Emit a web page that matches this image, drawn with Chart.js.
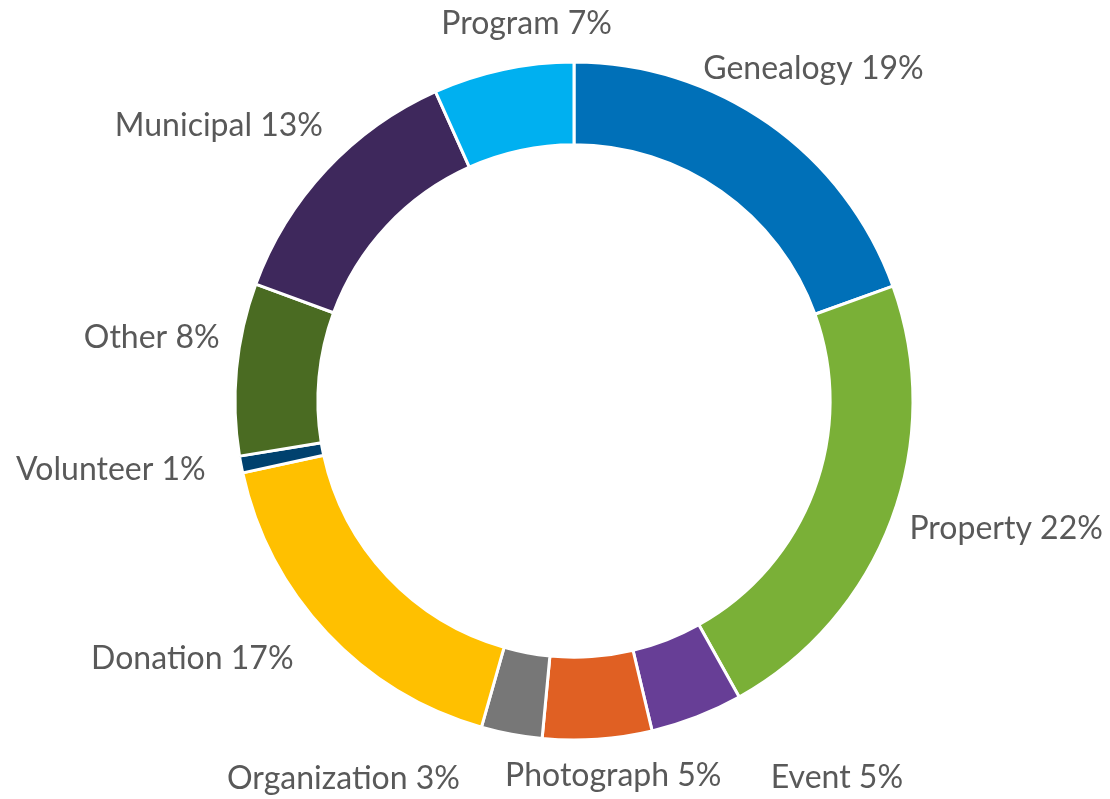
<!DOCTYPE html>
<html>
<head>
<meta charset="utf-8">
<script src="https://cdn.jsdelivr.net/npm/chart.js@4.4.0/dist/chart.umd.min.js"></script>
<style>
html,body{margin:0;padding:0;background:#fff;}
canvas{display:block;}
</style>
</head>
<body>
<canvas id="c" width="1110" height="799"></canvas>
<script>
const categories = ["Genealogy","Property","Event","Photograph","Organization","Donation","Volunteer","Other","Municipal","Program"];
const shares = [19.5, 22.4, 4.4, 5.2, 2.9, 17.2, 0.8, 8.2, 12.7, 6.7];
const pctLabels = [19, 22, 5, 5, 3, 17, 1, 8, 13, 7];
const colors = ["#0070B8","#7AB037","#673E96","#E06023","#777777","#FFC000","#00416E","#4A6B22","#3E285C","#00B0F0"];

// label layout tweaks (text only): [dx, dy] relative to geometric outside position
const labelNudge = [[-7,15],[15,-31],[120,6],[13,-8],[-158,-12],[-64,-44],[-26,-18],[-4,-27],[-35,20],[34,1]];

const outsideLabels = {
  id: 'outsideLabels',
  afterDatasetsDraw(chart) {
    const ctx = chart.ctx;
    const meta = chart.getDatasetMeta(0);
    ctx.save();
    ctx.font = '32px Lato';
    ctx.fillStyle = '#595959';
    ctx.textAlign = 'center';
    ctx.textBaseline = 'middle';
    const gap = 18, h = 34, wRef = 0.91;
    meta.data.forEach((arc, i) => {
      const p = arc.getProps(['x','y','startAngle','endAngle','outerRadius'], true);
      const mid = (p.startAngle + p.endAngle) / 2;
      const dx = Math.cos(mid), dy = Math.sin(mid);
      const text = categories[i] + ' ' + pctLabels[i] + '%';
      const w = ctx.measureText(text).width * wRef;
      const proj = Math.abs(dx) * w / 2 + Math.abs(dy) * h / 2;
      const d = p.outerRadius + gap + proj;
      const n = labelNudge[i];
      ctx.fillText(text, p.x + dx * d + n[0], p.y + dy * d + n[1] + 3);
    });
    ctx.restore();
  }
};

new Chart(document.getElementById('c'), {
  type: 'doughnut',
  data: {
    labels: categories,
    datasets: [{
      data: shares,
      backgroundColor: colors,
      borderColor: '#ffffff',
      borderWidth: 3,
      hoverOffset: 0
    }]
  },
  options: {
    responsive: false,
    animation: false,
    radius: 339,
    cutout: 255,
    layout: { padding: { left: 235, right: 197, top: 62, bottom: 59 } },
    plugins: { legend: { display: false }, tooltip: { enabled: false } }
  },
  plugins: [outsideLabels]
});
</script>
</body>
</html>
